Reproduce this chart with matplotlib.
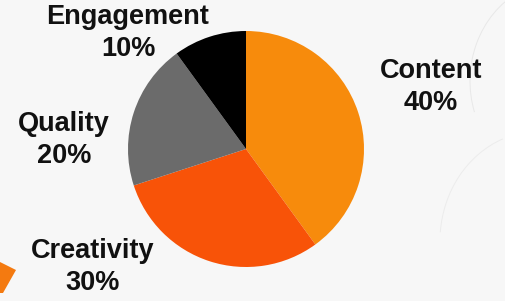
import matplotlib.pyplot as plt
from matplotlib.patches import Polygon, Arc

# chart data
labels = ['Content', 'Creativity', 'Quality', 'Engagement']
shares = [40, 30, 20, 10]
colors = ['#F78B0C', '#F85308', '#6B6B6B', '#000000']

# label anchors in pixel coords (x, y from top)
label_pos = [(431, 87), (93, 267), (64, 140), (128, 33)]

W, H = 506, 301
fig = plt.figure(figsize=(W / 100, H / 100), dpi=100)
fig.patch.set_facecolor('#f7f7f7')
ax = fig.add_axes([0, 0, 1, 1])
ax.set_xlim(0, W)
ax.set_ylim(0, H)
ax.set_aspect('equal')
ax.axis('off')

# faint decorative arcs on the right side
ax.add_patch(Arc((560, 220), 180, 200, theta1=115, theta2=200, color='#e8e8e8', lw=0.7))
ax.add_patch(Arc((540, 60), 200, 220, theta1=110, theta2=175, color='#ececec', lw=0.7))

# orange shape in the bottom left corner
ax.add_patch(Polygon([(0, H - 262), (16, H - 270), (3, H - 293), (0, H - 293)],
                     closed=True, color='#F47A10', lw=0))

ax.pie(shares, colors=colors, startangle=90, counterclock=False,
       center=(246, H - 149), radius=118, frame=True,
       wedgeprops=dict(linewidth=0))
ax.set_xlim(0, W)
ax.set_ylim(0, H)
ax.axis('off')

for lab, val, (x, y) in zip(labels, shares, label_pos):
    ax.text(x, H - y, f'{lab}\n{val}%', ha='center', va='center',
            fontsize=19.5, fontweight='bold', family='Liberation Sans',
            color='#111111', linespacing=1.3)

fig.savefig('out.png', dpi=100, facecolor=fig.get_facecolor())
